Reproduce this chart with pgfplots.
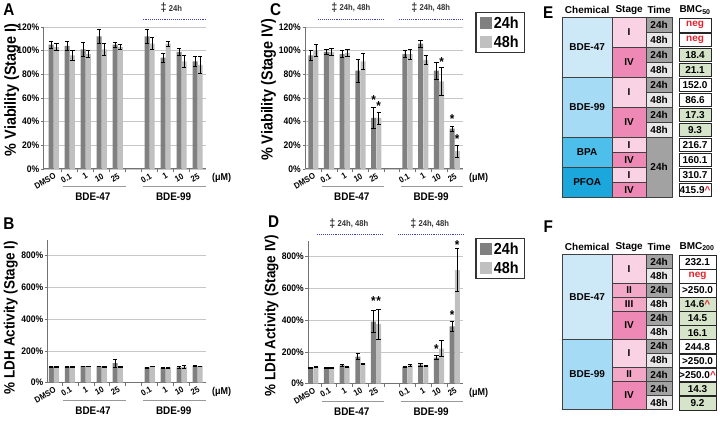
\documentclass[border=0pt]{standalone}
\usepackage{fontspec}
\setmainfont{Liberation Sans}[FakeStretch=0.9]
\newfontfamily\tabfont{Liberation Sans}
\usepackage{pgfplots}
\pgfplotsset{compat=1.18}
\usepackage{pgfplotstable}

\definecolor{c24}{HTML}{808080}
\definecolor{c48}{HTML}{C0C0C0}
\definecolor{ann}{HTML}{4444B8}
\definecolor{ch47}{HTML}{CDE9F8}
\definecolor{ch99}{HTML}{A6DBF5}
\definecolor{chbpa}{HTML}{4DBFEA}
\definecolor{chpfoa}{HTML}{1BA6DC}
\definecolor{stI}{HTML}{F9D3E4}
\definecolor{stII}{HTML}{F3A8C8}
\definecolor{stIV}{HTML}{EE89B6}
\definecolor{t24}{HTML}{A2A2A2}
\definecolor{t48}{HTML}{E8E8E8}
\definecolor{bg}{HTML}{D6E4CA}
\definecolor{negred}{HTML}{E8202A}

\newcommand{\tickfont}{\bfseries\fontsize{9.5}{11}\selectfont}
\newcommand{\xtickfont}{\bfseries\fontsize{8.5}{10}\selectfont}
\newcommand{\ylabfont}{\bfseries\fontsize{16}{18}\selectfont}
\newcommand{\ylabfontb}{\bfseries\fontsize{15}{17}\selectfont}
\newcommand{\grpfont}{\bfseries\fontsize{11}{13}\selectfont}
\newcommand{\annfont}{\bfseries\fontsize{8.5}{9}\selectfont}
\newcommand{\dagfont}{\bfseries\fontsize{12}{12}\selectfont}
\newcommand{\tf}{\tabfont\bfseries\fontsize{10}{12}\selectfont}

\pgfplotstableread{
x d de l le
0 105 3 103 3
1 104 4 96 4
2 101 6 97 3
3 112 6 101 5
4 105 2 103 2
6 112 6 106 5
7 94 4 106 2
8 99 3 91 5
9 91 4 88 7
}\tA
\pgfplotstableread{
x d de l le
0 100 3 100 3
1 100 3 97 2
2 103 2 102 2
3 102 2 97 2
4 122 25 97 3
6 95 3 102 3
7 92 2 95 3
8 95 5 100 8
9 103 3 103 2
}\tB
\pgfplotstableread{
x d de l le
0 96 4 100 5
1 99 2 99 3
2 97 3 98 3
3 83 10 91 7
4 43 9 43 5
6 97 3 97 4
7 106 3 92 4
8 83 7 74 12
9 34 2 15 5
}\tC
\pgfplotstableread{
x d de l le
0 98 3 104 5
1 100 3 98 4
2 115 5 104 3
3 170 20 125 5
4 390 70 375 95
6 105 3 115 5
7 120 10 112 5
8 163 12 220 50
9 360 30 715 135
}\tD

\pgfplotsset{
  panel/.style={
    scale only axis, ybar, bar width=5pt, clip=false,
    ymin=0, axis lines*=left,
    axis line style={draw=black!55, line width=0.8pt},
    ymajorgrids, grid style={draw=black!22, line width=0.6pt},
    xtick={0,1,2,3,4,6,7,8,9},
    xticklabels={DMSO,0.1,1,10,25,0.1,1,10,25},
    major x tick style={draw=none},
    minor xtick={0.5,1.5,2.5,3.5,4.5,5.5,6.5,7.5,8.5},
    minor x tick style={draw=black!55, line width=0.6pt},
    minor tick length=3.5pt, major tick length=3pt, tick align=outside,
    ytick style={draw=black!55, line width=0.6pt},
    x tick label style={rotate=30, anchor=north east, font=\xtickfont, inner sep=0.5pt},
    y tick label style={font=\tickfont, inner sep=1.5pt},
    legend cell align=left,
  },
  d24/.style={fill=c24, draw=none, bar shift=-2.6pt,
    legend image code/.code={\fill[c24] (0pt,-6pt) rectangle (12pt,6pt);},
    error bars/.cd, y dir=both, y explicit,
    error bar style={black, line width=0.7pt},
    error mark options={black, line width=0.7pt, mark size=2.2pt, rotate=90}},
  d48/.style={fill=c48, draw=none, bar shift=2.6pt,
    legend image code/.code={\fill[c48] (0pt,-6pt) rectangle (12pt,6pt);},
    error bars/.cd, y dir=both, y explicit,
    error bar style={black, line width=0.7pt},
    error mark options={black, line width=0.7pt, mark size=2.2pt, rotate=90}},
  lgd/.style={legend style={draw=black!80, line width=1.4pt,
    font=\bfseries\fontsize{16}{18}\selectfont, inner xsep=4pt, inner ysep=2pt,
    row sep=2pt, anchor=north west}},
}

\newcommand{\groups}{%
  \draw[black!40, line width=0.8pt] ([yshift=-17.5pt]axis cs:0.56,0) -- ([yshift=-17.5pt]axis cs:4.5,0);
  \draw[black!40, line width=0.8pt] ([yshift=-17.5pt]axis cs:5.56,0) -- ([yshift=-17.5pt]axis cs:9.5,0);
  \node[font=\grpfont] at ([yshift=-28pt]axis cs:2.45,0) {BDE-47};
  \node[font=\grpfont] at ([yshift=-28pt]axis cs:7.5,0) {BDE-99};
  \node[font=\bfseries\fontsize{10}{12}\selectfont] at ([xshift=16pt,yshift=-9pt]axis cs:9.5,0) {(μM)};
}
\newcommand{\cell}[6]{%
  \filldraw[fill=#5, draw=black!75, line width=0.6pt] (#1,#2) rectangle (#3,#4);
  \node[font=\tf, inner sep=0pt] at ({(#1+#3)/2},{(#2+#4)/2}) {#6};}
\newcommand{\bcell}[5]{%
  \filldraw[fill=#4, draw=black!85, line width=0.7pt] (#1,#2+0.6) rectangle (#3,#2+14.4);
  \node[font=\tf, inner sep=0pt] at ({(#1+#3)/2},#2+7.5) {#5};}
\newcommand{\up}{\textcolor{negred}{\textasciicircum}}
\newcommand{\negval}{\textcolor{negred}{neg}}
\newcommand{\sig}[3]{\node[font=\bfseries\fontsize{13}{13}\selectfont, inner sep=0pt] at ([xshift=#1,yshift=-2pt]axis cs:#2,#3) {*};}
\newcommand{\annot}[5]{% dagger x, y, line x1, x2, text
  \node[font=\dagfont, text=black!80, inner sep=0pt] at (#1,#2) {‡};
  \node[font=\annfont, text=black!80, anchor=west, inner sep=0pt] at (#1+5,#2) {#5};
  \draw[ann, densely dotted, line width=0.9pt] (#3,#2+11) -- (#4,#2+11);}

\begin{document}
\begin{tikzpicture}
\begin{scope}[x=1pt,y=-1pt]
\path[use as bounding box] (0,0) rectangle (720,421);
\end{scope}

% ---------- A ----------
\begin{axis}[panel, at={(43pt,-169pt)}, anchor=south west, width=162pt, height=142pt,
  xmin=-0.62, xmax=9.5, ymax=120, ytick={0,20,...,120},
  yticklabels={0\%,20\%,40\%,60\%,80\%,100\%,120\%}]
\addplot[d24] table[x=x,y=d,y error=de]{\tA};
\addplot[d48] table[x=x,y=l,y error=le]{\tA};
\groups
\end{axis}

% ---------- B ----------
\begin{axis}[panel, at={(47pt,-383pt)}, anchor=south west, width=158pt, height=143pt,
  xmin=-0.38, xmax=9.5, ymax=900, ytick={0,200,...,800},
  yticklabels={0\%,200\%,400\%,600\%,800\%}]
\addplot[d24] table[x=x,y=d,y error=de]{\tB};
\addplot[d48] table[x=x,y=l,y error=le]{\tB};
\groups
\end{axis}

% ---------- C ----------
\begin{axis}[panel, lgd, at={(305pt,-169pt)}, anchor=south west, width=158pt, height=142pt,
  xmin=-0.5, xmax=9.55, ymax=120, ytick={0,20,...,120},
  yticklabels={0\%,20\%,40\%,60\%,80\%,100\%,120\%},
  legend style={at={(axis description cs:1.076,1.106)}}]
\addplot[d24] table[x=x,y=d,y error=de]{\tC};
\addplot[d48] table[x=x,y=l,y error=le]{\tC};
\legend{24h,48h}
\groups
\sig{-2.6pt}{4}{60}
\sig{2.6pt}{4}{55}
\sig{2.6pt}{8}{92}
\sig{-2.6pt}{9}{44}
\sig{2.6pt}{9}{27}
\end{axis}

% ---------- D ----------
\begin{axis}[panel, lgd, at={(308pt,-384pt)}, anchor=south west, width=155pt, height=143pt,
  xmin=-0.3, xmax=9.55, ymax=900, ytick={0,200,...,800},
  yticklabels={0\%,200\%,400\%,600\%,800\%},
  legend style={at={(axis description cs:1.077,1.021)}}]
\addplot[d24] table[x=x,y=d,y error=de]{\tD};
\addplot[d48] table[x=x,y=l,y error=le]{\tD};
\legend{24h,48h}
\groups
\sig{-2.6pt}{4}{535}
\sig{2.6pt}{4}{535}
\sig{-2.6pt}{8}{233}
\sig{-2.6pt}{9}{442}
\sig{2.6pt}{9}{883}
\end{axis}

\begin{scope}[x=1pt,y=-1pt]
% y labels
\node[font=\ylabfont, rotate=90] at (11,90) {\% Viability (Stage I)};
\node[font=\ylabfontb, rotate=90] at (10,318) {\% LDH Activity (Stage I)};
\node[font=\ylabfont, rotate=90] at (268,90) {\% Viability (Stage IV)};
\node[font=\ylabfontb, rotate=90] at (271,316) {\% LDH Activity (Stage IV)};
% panel letters
\node[font=\bfseries\fontsize{17}{17}\selectfont] at (8,10) {A};
\node[font=\bfseries\fontsize{17}{17}\selectfont] at (275,10) {C};
\node[font=\bfseries\fontsize{17}{17}\selectfont] at (8,224) {B};
\node[font=\bfseries\fontsize{17}{17}\selectfont] at (273,222) {D};
\node[font=\bfseries\fontsize{17}{17}\selectfont] at (548,13) {E};
\node[font=\bfseries\fontsize{17}{17}\selectfont] at (548,227) {F};
% annotations
\annot{163}{8}{142}{205}{24h}
\annot{334}{8}{318}{383}{24h, 48h}
\annot{414}{8}{399}{463}{24h, 48h}
\annot{332}{224}{317}{383}{24h, 48h}
\annot{413}{224}{398}{463}{24h, 48h}

% ---------- E table ----------
\node[font=\tf] at (587,10) {Chemical};
\node[font=\tf] at (629,10) {Stage};
\node[font=\tf] at (659,10) {Time};
\node[font=\tf] at (695,10) {BMC\textsubscript{50}};
\cell{562}{17.5}{612}{77.5}{ch47}{BDE-47}
\cell{562}{77.5}{612}{137.5}{ch99}{BDE-99}
\cell{562}{137.5}{612}{167.5}{chbpa}{BPA}
\cell{562}{167.5}{612}{197.5}{chpfoa}{PFOA}
\cell{612}{17.5}{646}{47.5}{stI}{I}
\cell{612}{47.5}{646}{77.5}{stIV}{IV}
\cell{612}{77.5}{646}{107.5}{stI}{I}
\cell{612}{107.5}{646}{137.5}{stIV}{IV}
\cell{612}{137.5}{646}{152.5}{stI}{I}
\cell{612}{152.5}{646}{167.5}{stIV}{IV}
\cell{612}{167.5}{646}{182.5}{stI}{I}
\cell{612}{182.5}{646}{197.5}{stIV}{IV}
\cell{646}{17.5}{672}{32.5}{t24}{24h}
\cell{646}{32.5}{672}{47.5}{t48}{48h}
\cell{646}{47.5}{672}{62.5}{t24}{24h}
\cell{646}{62.5}{672}{77.5}{t48}{48h}
\cell{646}{77.5}{672}{92.5}{t24}{24h}
\cell{646}{92.5}{672}{107.5}{t48}{48h}
\cell{646}{107.5}{672}{122.5}{t24}{24h}
\cell{646}{122.5}{672}{137.5}{t48}{48h}
\cell{646}{137.5}{672}{197.5}{t24}{24h}
\bcell{679}{17.5}{711}{white}{\negval}
\bcell{679}{32.5}{711}{white}{\negval}
\bcell{679}{47.5}{711}{bg}{18.4}
\bcell{679}{62.5}{711}{bg}{21.1}
\bcell{679}{77.5}{711}{white}{152.0}
\bcell{679}{92.5}{711}{white}{86.6}
\bcell{679}{107.5}{711}{bg}{17.3}
\bcell{679}{122.5}{711}{bg}{9.3}
\bcell{679}{137.5}{711}{white}{216.7}
\bcell{679}{152.5}{711}{white}{160.1}
\bcell{679}{167.5}{711}{white}{310.7}
\bcell{679}{182.5}{711}{white}{415.9\up}

% ---------- F table ----------
\node[font=\tf] at (587,247) {Chemical};
\node[font=\tf] at (629,247) {Stage};
\node[font=\tf] at (659,247) {Time};
\node[font=\tf] at (697,247) {BMC\textsubscript{200}};
\cell{562}{255}{612}{339.6}{ch47}{BDE-47}
\cell{562}{339.6}{612}{410.1}{ch99}{BDE-99}
\cell{612}{255}{646}{283.2}{stI}{I}
\cell{612}{283.2}{646}{297.3}{stII}{II}
\cell{612}{297.3}{646}{311.4}{stII}{III}
\cell{612}{311.4}{646}{339.6}{stIV}{IV}
\cell{612}{339.6}{646}{367.8}{stI}{I}
\cell{612}{367.8}{646}{381.9}{stII}{II}
\cell{612}{381.9}{646}{410.1}{stIV}{IV}
\cell{646}{255}{672}{269.1}{t24}{24h}
\cell{646}{269.1}{672}{283.2}{t48}{48h}
\cell{646}{283.2}{672}{297.3}{t24}{24h}
\cell{646}{297.3}{672}{311.4}{t48}{48h}
\cell{646}{311.4}{672}{325.5}{t24}{24h}
\cell{646}{325.5}{672}{339.6}{t48}{48h}
\cell{646}{339.6}{672}{353.7}{t24}{24h}
\cell{646}{353.7}{672}{367.8}{t48}{48h}
\cell{646}{367.8}{672}{381.9}{t24}{24h}
\cell{646}{381.9}{672}{396}{t24}{24h}
\cell{646}{396}{672}{410.1}{t48}{48h}
\bcell{679}{255}{716}{white}{232.1}
\bcell{679}{269.1}{716}{white}{\negval}
\bcell{679}{283.2}{716}{white}{>250.0}
\bcell{679}{297.3}{716}{bg}{14.6\up}
\bcell{679}{311.4}{716}{bg}{14.5}
\bcell{679}{325.5}{716}{bg}{16.1}
\bcell{679}{339.6}{716}{white}{244.8}
\bcell{679}{353.7}{716}{white}{>250.0}
\bcell{679}{367.8}{716}{white}{>250.0\up}
\bcell{679}{381.9}{716}{bg}{14.3}
\bcell{679}{396}{716}{bg}{9.2}
\end{scope}
\end{tikzpicture}
\end{document}
